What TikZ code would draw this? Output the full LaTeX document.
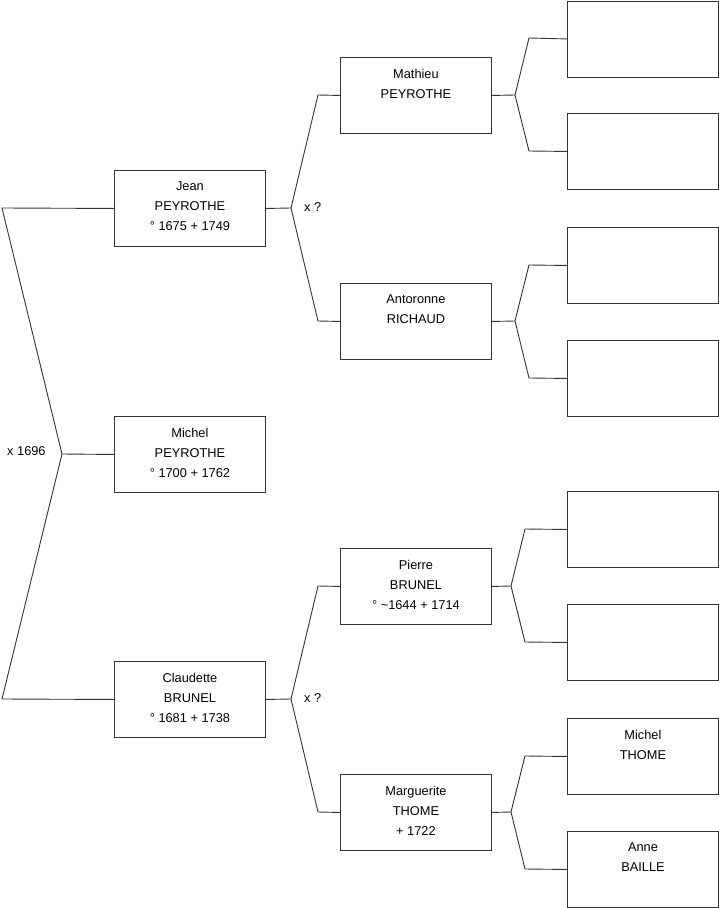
\documentclass[tikz,border=0pt]{standalone}
\usepackage{fontspec}
\setmainfont{Liberation Sans}
\newcommand{\lowpad}{\rule[-4pt]{0pt}{4pt}}
\begin{document}
\begin{tikzpicture}[x=1pt,y=-1pt,
  person/.style={draw=black!80, line width=0.9pt, minimum width=151pt, minimum height=76pt,
    inner sep=0pt, align=center, font=\fontsize{12.8}{20}\selectfont, anchor=north west},
  link/.style={draw=black!80, line width=0.9pt},
  lab/.style={font=\fontsize{12.8}{14}\selectfont, anchor=west, inner sep=0pt}]
\useasboundingbox (0,0) rectangle (719,908);
% generation 1 and 2
\node[person] (jean) at (114,170) {Jean\\PEYROTHE\\° 1675 + 1749\lowpad};
\node[person] (michel) at (114,416) {Michel\\PEYROTHE\\° 1700 + 1762\lowpad};
\node[person] (claud) at (114,661) {Claudette\\BRUNEL\\° 1681 + 1738\lowpad};
% generation 3
\node[person] (mathieu) at (340,57) {Mathieu\\PEYROTHE\\\mbox{}\lowpad};
\node[person] (anto) at (340,283) {Antoronne\\RICHAUD\\\mbox{}\lowpad};
\node[person] (pierre) at (340,548) {Pierre\\BRUNEL\\° {\char"7E\relax}1644 + 1714\lowpad};
\node[person] (marg) at (340,774) {Marguerite\\THOME\\+ 1722\lowpad};
% generation 4
\node[person] (g1) at (567,0.5) {};
\node[person] (g2) at (567,113) {};
\node[person] (g3) at (567,227) {};
\node[person] (g4) at (567,340) {};
\node[person] (g5) at (567,491) {};
\node[person] (g6) at (567,604) {};
\node[person] (g7) at (567,718) {Michel\\THOME\\\mbox{}\lowpad};
\node[person] (g8) at (567,831) {Anne\\BAILLE\\\mbox{}\lowpad};
% forks
\coordinate (fL) at (62,454);
\coordinate (fJ) at (291,208);
\coordinate (fC) at (291,699);
\coordinate (fM) at (515,95);
\coordinate (fA) at (515,321);
\coordinate (fP) at (511,586);
\coordinate (fG) at (511,812);
% connectors
\draw[link] (jean.west) -- (2,208) -- (fL) -- (2,699) -- (claud.west);
\draw[link] (fL) -- (michel.west);
\draw[link] (jean.east) -- (fJ);
\draw[link] (mathieu.west) -- (318,95) -- (fJ) -- (318,321) -- (anto.west);
\draw[link] (claud.east) -- (fC);
\draw[link] (pierre.west) -- (318,586) -- (fC) -- (318,812) -- (marg.west);
\draw[link] (mathieu.east) -- (fM);
\draw[link] (g1.west) -- (529,38) -- (fM) -- (529,151) -- (g2.west);
\draw[link] (anto.east) -- (fA);
\draw[link] (g3.west) -- (529,265) -- (fA) -- (529,378) -- (g4.west);
\draw[link] (pierre.east) -- (fP);
\draw[link] (g5.west) -- (525,529) -- (fP) -- (525,642) -- (g6.west);
\draw[link] (marg.east) -- (fG);
\draw[link] (g7.west) -- (525,756) -- (fG) -- (525,869) -- (g8.west);
% labels
\node[lab] (m1) at (7,451) {x 1696};
\node[lab] (m2) at (304,207) {x ?};
\node[lab] (m3) at (304,698) {x ?};
\end{tikzpicture}
\end{document}
